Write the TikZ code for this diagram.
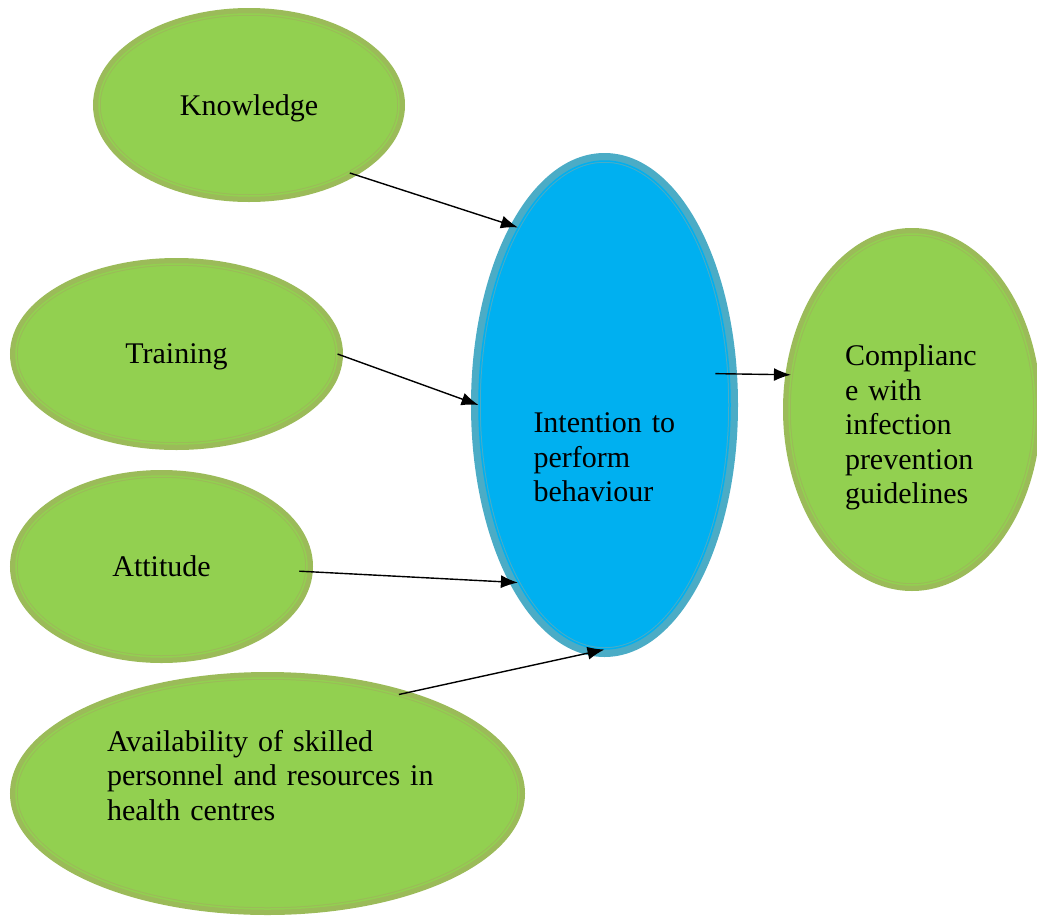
\documentclass[tikz,border=0pt]{standalone}
\usepackage{fontspec}
\setmainfont{Liberation Serif}
\usetikzlibrary{shapes.geometric,arrows.meta}
\definecolor{vert}{HTML}{92D050}
\definecolor{anneau}{HTML}{9BBB59}
\definecolor{bleu}{HTML}{00B0F0}
\definecolor{anneauBleu}{HTML}{4BACC6}
\begin{document}
\begin{tikzpicture}[x=1pt,y=-1pt]
% Styles
\tikzstyle{fleche}=[->,>={Latex[length=17pt,width=13pt]},line width=1.4pt]
\tikzstyle{bulle}=[ellipse,inner sep=0pt,fill=vert,draw=anneau,line width=1pt,double=vert,double distance=1.5pt,preaction={draw=anneau,line width=12pt},font=\fontsize{30}{34.5}\selectfont]
\tikzstyle{bulleBleue}=[bulle,fill=bleu,draw=anneauBleu,double=bleu,preaction={draw=anneauBleu,line width=16pt}]
% Cadre
\useasboundingbox (0,0) rectangle (1037,916);
% Noeuds
\node[bulle,minimum width=300pt,minimum height=182pt,text depth=0pt] (K) at (249,105) {Knowledge};
\node[bulle,minimum width=321pt,minimum height=180pt,text depth=0pt] (T) at (176.5,354) {Training};
\node[bulle,minimum width=291pt,minimum height=181pt] (A) at (161.5,566.5) {Attitude};
\node[bulle,minimum width=503pt,minimum height=231pt,text width=321pt,align=left,text depth=106pt] (D) at (267.5,793.5) {Availability of skilled\\\mbox{personnel and resources in}\\health centres};
\node[bulleBleue,minimum width=251pt,minimum height=488pt,text width=142pt,align=left,text height=125pt] (I) at (604.5,405) {Intention to\\perform\\behaviour};
\node[bulle,minimum width=246pt,minimum height=351pt,text width=134pt,align=left,text height=57pt] (C) at (912,409.5) {Complianc\\e with\\infection\\prevention\\guidelines};
% Arcs
\draw[fleche] (K.-34)--(I.116);
\draw[fleche] (T.east)--(I.west);
\draw[fleche,shorten <=-8pt] (A.-2)--(I.244);
\draw[fleche] (D.37)--(I.south);
\draw[fleche,shorten <=-14pt] (I.14)--(C.164);
\end{tikzpicture}
\end{document}
